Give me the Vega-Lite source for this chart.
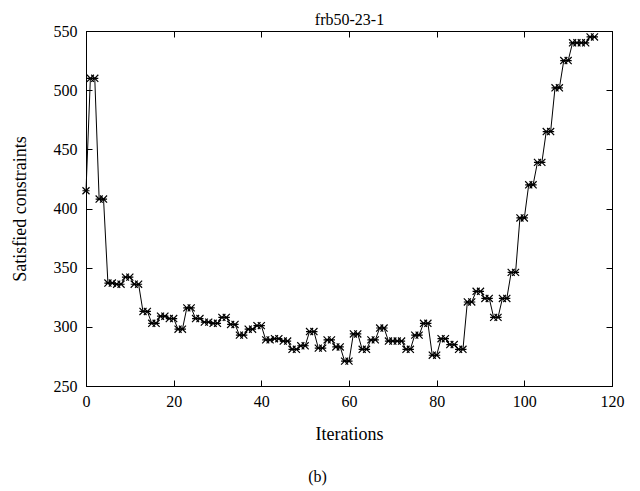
{
  "$schema": "https://vega.github.io/schema/vega-lite/v6.json",
  "width": 526,
  "height": 355,
  "autosize": {"type": "none"},
  "padding": {"left": 86, "top": 31, "right": 28, "bottom": 105},
  "config": {
    "font": "Liberation Serif",
    "view": {"stroke": "black", "strokeWidth": 1},
    "axis": {
      "grid": false,
      "domainColor": "black",
      "tickColor": "black",
      "tickWidth": 1,
      "tickSize": -6,
      "labelFlush": false,
      "labelColor": "black",
      "titleColor": "black",
      "labelFont": "Liberation Serif",
      "titleFont": "Liberation Serif",
      "labelFontSize": 16,
      "titleFontSize": 18,
      "titleFontWeight": "normal"
    }
  },
  "title": {
    "text": "(b)",
    "orient": "bottom",
    "anchor": "middle",
    "frame": "bounds",
    "font": "Liberation Serif",
    "fontSize": 16,
    "fontWeight": "normal",
    "color": "black",
    "offset": 26
  },
  "data": {
    "values": [
      {"iteration": 0, "satisfied": 415},
      {"iteration": 1, "satisfied": 510},
      {"iteration": 2, "satisfied": 510},
      {"iteration": 3, "satisfied": 408},
      {"iteration": 4, "satisfied": 408},
      {"iteration": 5, "satisfied": 337},
      {"iteration": 6, "satisfied": 337},
      {"iteration": 7, "satisfied": 336},
      {"iteration": 8, "satisfied": 336},
      {"iteration": 9, "satisfied": 342},
      {"iteration": 10, "satisfied": 342},
      {"iteration": 11, "satisfied": 336},
      {"iteration": 12, "satisfied": 336},
      {"iteration": 13, "satisfied": 313},
      {"iteration": 14, "satisfied": 313},
      {"iteration": 15, "satisfied": 303},
      {"iteration": 16, "satisfied": 303},
      {"iteration": 17, "satisfied": 309},
      {"iteration": 18, "satisfied": 309},
      {"iteration": 19, "satisfied": 307},
      {"iteration": 20, "satisfied": 307},
      {"iteration": 21, "satisfied": 298},
      {"iteration": 22, "satisfied": 298},
      {"iteration": 23, "satisfied": 316},
      {"iteration": 24, "satisfied": 316},
      {"iteration": 25, "satisfied": 307},
      {"iteration": 26, "satisfied": 307},
      {"iteration": 27, "satisfied": 304},
      {"iteration": 28, "satisfied": 304},
      {"iteration": 29, "satisfied": 303},
      {"iteration": 30, "satisfied": 303},
      {"iteration": 31, "satisfied": 308},
      {"iteration": 32, "satisfied": 308},
      {"iteration": 33, "satisfied": 302},
      {"iteration": 34, "satisfied": 302},
      {"iteration": 35, "satisfied": 293},
      {"iteration": 36, "satisfied": 293},
      {"iteration": 37, "satisfied": 298},
      {"iteration": 38, "satisfied": 298},
      {"iteration": 39, "satisfied": 301},
      {"iteration": 40, "satisfied": 301},
      {"iteration": 41, "satisfied": 289},
      {"iteration": 42, "satisfied": 289},
      {"iteration": 43, "satisfied": 290},
      {"iteration": 44, "satisfied": 290},
      {"iteration": 45, "satisfied": 288},
      {"iteration": 46, "satisfied": 288},
      {"iteration": 47, "satisfied": 281},
      {"iteration": 48, "satisfied": 281},
      {"iteration": 49, "satisfied": 284},
      {"iteration": 50, "satisfied": 284},
      {"iteration": 51, "satisfied": 296},
      {"iteration": 52, "satisfied": 296},
      {"iteration": 53, "satisfied": 282},
      {"iteration": 54, "satisfied": 282},
      {"iteration": 55, "satisfied": 289},
      {"iteration": 56, "satisfied": 289},
      {"iteration": 57, "satisfied": 283},
      {"iteration": 58, "satisfied": 283},
      {"iteration": 59, "satisfied": 271},
      {"iteration": 60, "satisfied": 271},
      {"iteration": 61, "satisfied": 294},
      {"iteration": 62, "satisfied": 294},
      {"iteration": 63, "satisfied": 281},
      {"iteration": 64, "satisfied": 281},
      {"iteration": 65, "satisfied": 289},
      {"iteration": 66, "satisfied": 289},
      {"iteration": 67, "satisfied": 299},
      {"iteration": 68, "satisfied": 299},
      {"iteration": 69, "satisfied": 288},
      {"iteration": 70, "satisfied": 288},
      {"iteration": 71, "satisfied": 288},
      {"iteration": 72, "satisfied": 288},
      {"iteration": 73, "satisfied": 281},
      {"iteration": 74, "satisfied": 281},
      {"iteration": 75, "satisfied": 293},
      {"iteration": 76, "satisfied": 293},
      {"iteration": 77, "satisfied": 303},
      {"iteration": 78, "satisfied": 303},
      {"iteration": 79, "satisfied": 276},
      {"iteration": 80, "satisfied": 276},
      {"iteration": 81, "satisfied": 290},
      {"iteration": 82, "satisfied": 290},
      {"iteration": 83, "satisfied": 285},
      {"iteration": 84, "satisfied": 285},
      {"iteration": 85, "satisfied": 281},
      {"iteration": 86, "satisfied": 281},
      {"iteration": 87, "satisfied": 321},
      {"iteration": 88, "satisfied": 321},
      {"iteration": 89, "satisfied": 330},
      {"iteration": 90, "satisfied": 330},
      {"iteration": 91, "satisfied": 324},
      {"iteration": 92, "satisfied": 324},
      {"iteration": 93, "satisfied": 308},
      {"iteration": 94, "satisfied": 308},
      {"iteration": 95, "satisfied": 324},
      {"iteration": 96, "satisfied": 324},
      {"iteration": 97, "satisfied": 346},
      {"iteration": 98, "satisfied": 346},
      {"iteration": 99, "satisfied": 392},
      {"iteration": 100, "satisfied": 392},
      {"iteration": 101, "satisfied": 420},
      {"iteration": 102, "satisfied": 420},
      {"iteration": 103, "satisfied": 439},
      {"iteration": 104, "satisfied": 439},
      {"iteration": 105, "satisfied": 465},
      {"iteration": 106, "satisfied": 465},
      {"iteration": 107, "satisfied": 502},
      {"iteration": 108, "satisfied": 502},
      {"iteration": 109, "satisfied": 525},
      {"iteration": 110, "satisfied": 525},
      {"iteration": 111, "satisfied": 540},
      {"iteration": 112, "satisfied": 540},
      {"iteration": 113, "satisfied": 540},
      {"iteration": 114, "satisfied": 540},
      {"iteration": 115, "satisfied": 545},
      {"iteration": 116, "satisfied": 545}
    ]
  },
  "layer": [
    {
      "mark": {"type": "line", "color": "black", "strokeWidth": 1},
      "encoding": {
        "x": {
          "field": "iteration",
          "type": "quantitative",
          "scale": {"domain": [0, 120], "nice": false, "zero": false},
          "axis": {"orient": "bottom", "values": [0, 20, 40, 60, 80, 100, 120], "title": "Iterations", "labelPadding": 13, "titlePadding": 16}
        },
        "y": {
          "field": "satisfied",
          "type": "quantitative",
          "scale": {"domain": [250, 550], "nice": false, "zero": false},
          "axis": {"orient": "left", "values": [250, 300, 350, 400, 450, 500, 550], "title": "Satisfied constraints", "labelPadding": 15, "titlePadding": 24}
        }
      }
    },
    {
      "mark": {
        "type": "point",
        "shape": "M-1,-1L1,1M-1,1L1,-1M-1,0L1,0",
        "size": 50,
        "filled": false,
        "color": "black",
        "strokeWidth": 1.2,
        "opacity": 1
      },
      "encoding": {
        "x": {
          "field": "iteration",
          "type": "quantitative",
          "axis": {"orient": "top", "values": [0, 20, 40, 60, 80, 100, 120], "labels": false, "title": "frb50-23-1", "titleFontSize": 16, "titlePadding": 3}
        },
        "y": {
          "field": "satisfied",
          "type": "quantitative",
          "axis": {"orient": "right", "values": [250, 300, 350, 400, 450, 500, 550], "labels": false, "title": null}
        }
      }
    }
  ],
  "resolve": {"axis": {"x": "independent", "y": "independent"}}
}
